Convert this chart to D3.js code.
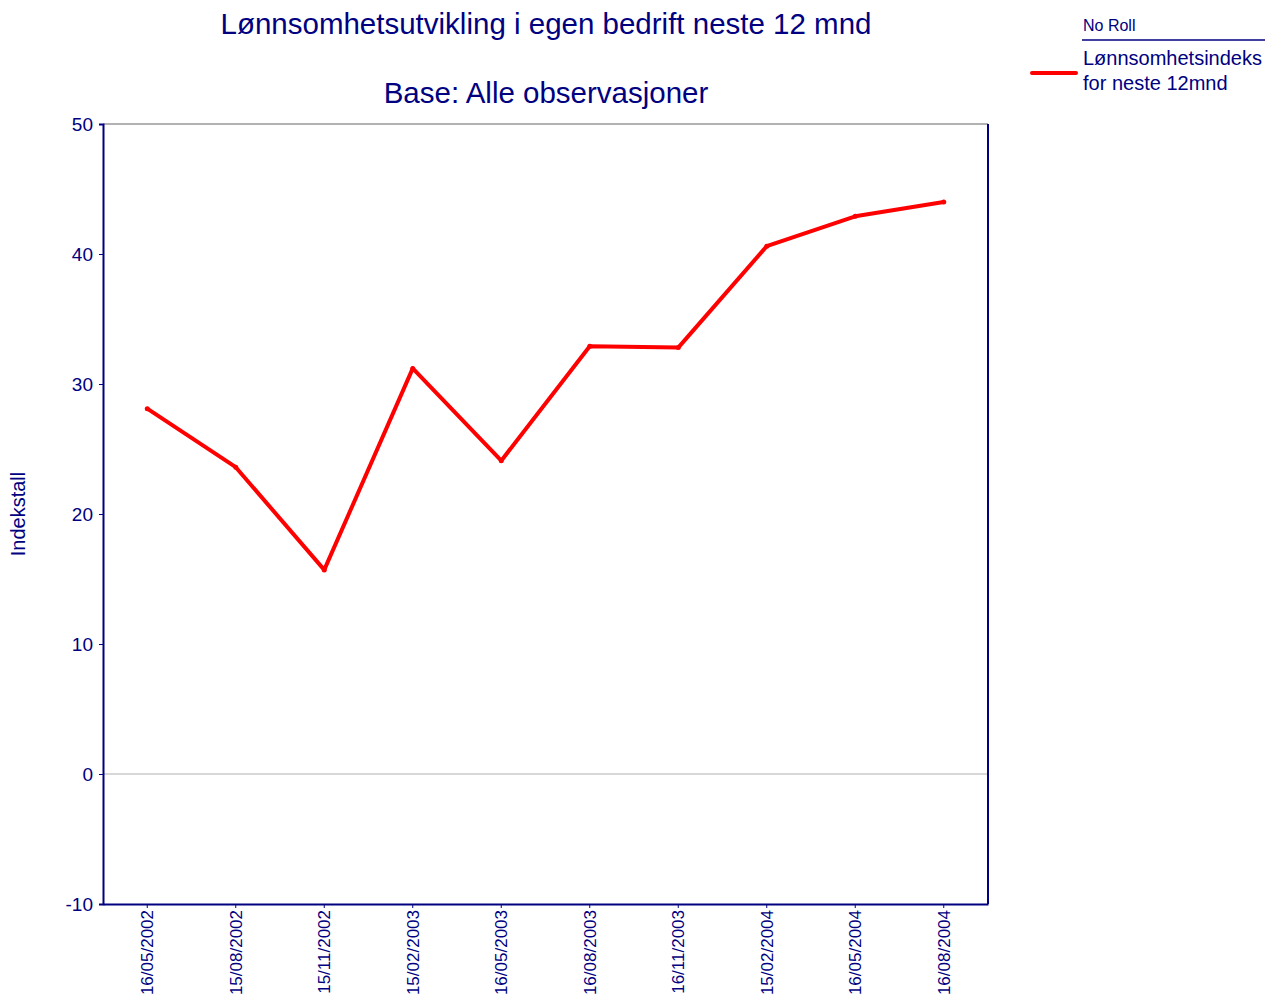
<!DOCTYPE html>
<html><head><meta charset="utf-8">
<script src="https://cdn.jsdelivr.net/npm/d3@7"></script>
<style>body{margin:0;background:#fff;}svg{display:block;font-family:"Liberation Sans",Arial,sans-serif;}</style>
</head><body><svg id="c" width="1265" height="994"></svg>
<script>
const categories = ["16/05/2002","15/08/2002","15/11/2002","15/02/2003","16/05/2003","16/08/2003","16/11/2003","15/02/2004","16/05/2004","16/08/2004"];
const values = [28.1, 23.6, 15.7, 31.2, 24.1, 32.9, 32.8, 40.6, 42.9, 44.0];
const yTicks = [-10, 0, 10, 20, 30, 40, 50];
const title = "Lønnsomhetsutvikling i egen bedrift neste 12 mnd";
const subtitle = "Base: Alle observasjoner";
const yLabel = "Indekstall";
const legendHeader = "No Roll";
const seriesName = ["Lønnsomhetsindeks", "for neste 12mnd"];

const navy = "#000080";
const svg = d3.select("#c");
const L = 103, R = 988, T = 124, B = 904;
const x = d3.scaleBand().domain(categories).range([L, R]);
const y = d3.scaleLinear().domain([-10, 50]).range([B, T]);

// zero gridline
svg.append("line").attr("x1", L).attr("x2", R).attr("y1", y(0)).attr("y2", y(0)).attr("stroke", "#b0b0b0").attr("stroke-width", 1);

// frame
svg.append("line").attr("x1", L).attr("x2", R).attr("y1", T).attr("y2", T).attr("stroke", "#999").attr("stroke-width", 1.5);
svg.append("line").attr("x1", R).attr("x2", R).attr("y1", T).attr("y2", B).attr("stroke", navy).attr("stroke-width", 2);

// y axis
const yAxis = svg.append("g").attr("transform", `translate(${L},0)`)
  .call(d3.axisLeft(y).tickValues(yTicks).tickSize(4).tickPadding(6).tickFormat(d => String(d)));
yAxis.select(".domain").attr("stroke", navy).attr("stroke-width", 2);
yAxis.selectAll(".tick line").attr("stroke", navy);
yAxis.selectAll("text").attr("fill", navy).style("font-size", "19px").style("font-family", "'Liberation Sans',Arial,sans-serif");

// x axis
const xAxis = svg.append("g").attr("transform", `translate(0,${B})`)
  .call(d3.axisBottom(x).tickSize(4).tickSizeOuter(0));
xAxis.select(".domain").attr("stroke", navy).attr("stroke-width", 2);
xAxis.selectAll(".tick line").attr("stroke", navy);
xAxis.selectAll("text").attr("fill", navy).style("font-size", "17px").style("font-family", "'Liberation Sans',Arial,sans-serif")
  .attr("transform", "rotate(-90)").attr("text-anchor", "end").attr("x", -6).attr("y", 0).attr("dy", "0.35em");

// line
const line = d3.line().x((d, i) => x(categories[i]) + x.bandwidth() / 2).y(d => y(d));
svg.append("path").datum(values).attr("d", line).attr("fill", "none").attr("stroke", "#ff0000").attr("stroke-width", 4).attr("stroke-linejoin", "round");
svg.selectAll("circle.pt").data(values).enter().append("circle")
  .attr("cx", (d, i) => x(categories[i]) + x.bandwidth() / 2).attr("cy", d => y(d)).attr("r", 2.5).attr("fill", "#ff0000");

// titles
svg.append("text").attr("x", 546).attr("y", 34).attr("text-anchor", "middle").attr("fill", navy).style("font-size", "29.5px").text(title);
svg.append("text").attr("x", 546).attr("y", 103).attr("text-anchor", "middle").attr("fill", navy).style("font-size", "29.5px").text(subtitle);

// y label
svg.append("text").attr("transform", "translate(25,514) rotate(-90)").attr("text-anchor", "middle").attr("fill", navy).style("font-size", "20px").text(yLabel);

// legend
svg.append("text").attr("x", 1083).attr("y", 31).attr("fill", navy).style("font-size", "16px").text(legendHeader);
svg.append("line").attr("x1", 1082).attr("x2", 1265).attr("y1", 40).attr("y2", 40).attr("stroke", navy).attr("stroke-width", 1.5);
svg.append("text").attr("x", 1083).attr("y", 65).attr("fill", navy).style("font-size", "20px").text(seriesName[0]);
svg.append("text").attr("x", 1083).attr("y", 90).attr("fill", navy).style("font-size", "20px").text(seriesName[1]);
svg.append("line").attr("x1", 1032).attr("x2", 1076).attr("y1", 73).attr("y2", 73).attr("stroke", "#ff0000").attr("stroke-width", 4).attr("stroke-linecap", "round");
</script></body></html>
